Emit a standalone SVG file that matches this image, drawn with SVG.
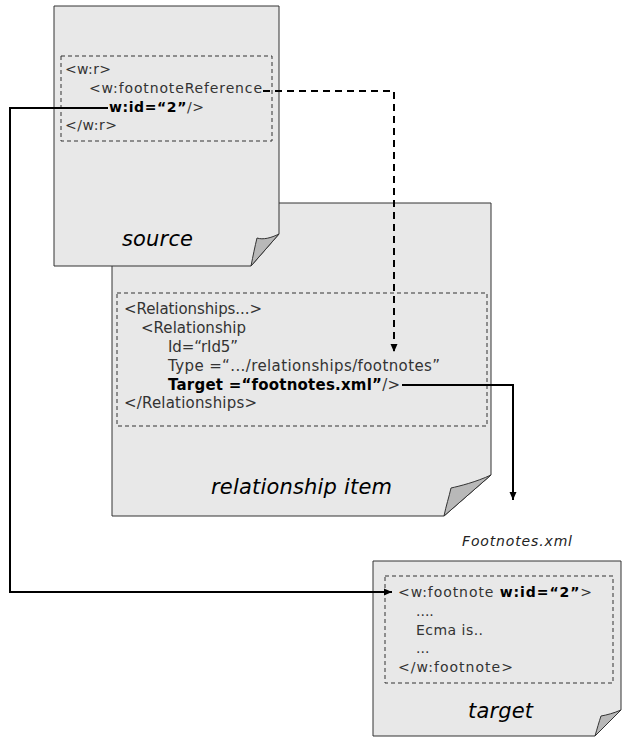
<svg xmlns="http://www.w3.org/2000/svg" width="623" height="738" viewBox="0 0 623 738">
<style>
.page{fill:#e8e8e8;stroke:#333;stroke-width:1}
.fold{fill:#b8b8b8;stroke:#333;stroke-width:1}
.box{fill:none;stroke:#333;stroke-width:1;stroke-dasharray:4,3}
.code{font-family:"DejaVu Sans","Liberation Sans",sans-serif;fill:#333}
.b{font-weight:bold;fill:#000}
.label{font-family:"DejaVu Sans","Liberation Sans",sans-serif;font-style:italic;fill:#000;font-size:21px}
.conn{fill:none;stroke:#000;stroke-width:2}
.dash{stroke-dasharray:7,5}
</style>
<defs>
<marker id="arr" markerUnits="userSpaceOnUse" markerWidth="9" markerHeight="8" refX="8" refY="4" orient="auto">
<path d="M0,0.5 L8,4 L0,7.5 Z" fill="#000"/>
</marker>
</defs>
<rect width="623" height="738" fill="#fff"/>

<g id="relationship-item">
<path class="page" d="M112,203 H491 V475 L444,516 H112 Z"/>
<path class="fold" d="M444,516 C446,506 449,497 451,488 C460,486 476,482 491,475 Z"/>
<rect class="box" x="117" y="293" width="370" height="133"/>
<g class="code" font-size="15">
<text x="124" y="314" textLength="138">&lt;Relationships...&gt;</text>
<text x="141" y="333" textLength="105">&lt;Relationship</text>
<text x="168" y="352" textLength="70">Id=“rId5”</text>
<text x="168" y="371" textLength="272">Type =“.../relationships/footnotes”</text>
<text x="168" y="390" textLength="232"><tspan class="b">Target =“footnotes.xml”</tspan>/&gt;</text>
<text x="124" y="408" textLength="133">&lt;/Relationships&gt;</text>
</g>
<text class="label" x="211" y="494" textLength="181">relationship item</text>
</g>

<g id="source">
<path class="page" d="M54,6 H279 V234 L251,266 H54 Z"/>
<path class="fold" d="M251,266 C253,256 255,246 257,238 C263,240 271,238 279,234 Z"/>
<rect class="box" x="61" y="56" width="211" height="85"/>
<g class="code" font-size="14">
<text x="65" y="74" textLength="46">&lt;w:r&gt;</text>
<text x="89" y="93" textLength="173">&lt;w:footnoteReference</text>
<text x="109" y="112" textLength="95"><tspan class="b">w:id=“2”</tspan>/&gt;</text>
<text x="65" y="130" textLength="52">&lt;/w:r&gt;</text>
</g>
<text class="label" x="122" y="246" textLength="71">source</text>
</g>

<g id="target">
<path class="page" d="M373,561 H621 V710 L595,736 H373 Z"/>
<path class="fold" d="M595,736 C597,729 599,722 601,716 C607,715 614,713 621,710 Z"/>
<rect class="box" x="385" y="576" width="228" height="107"/>
<g class="code" font-size="14">
<text x="398" y="597" textLength="194">&lt;w:footnote <tspan class="b">w:id=“2”</tspan>&gt;</text>
<text x="416" y="616">....</text>
<text x="416" y="635" textLength="67">Ecma is..</text>
<text x="416" y="653">...</text>
<text x="398" y="672" textLength="115">&lt;/w:footnote&gt;</text>
</g>
<text class="label" x="468" y="718" textLength="65">target</text>
</g>

<g id="footnotes-label">
<text x="462" y="546" font-family="DejaVu Sans, Liberation Sans, sans-serif" font-style="italic" font-size="14" fill="#222" textLength="110">Footnotes.xml</text>
</g>

<g id="connectors">
<path class="conn" d="M108,108 H10 V592 H392" marker-end="url(#arr)"/>
<path class="conn dash" d="M263,91 H394 V352" marker-end="url(#arr)"/>
<path class="conn" d="M402,385 H513 V500" marker-end="url(#arr)"/>
</g>
</svg>
